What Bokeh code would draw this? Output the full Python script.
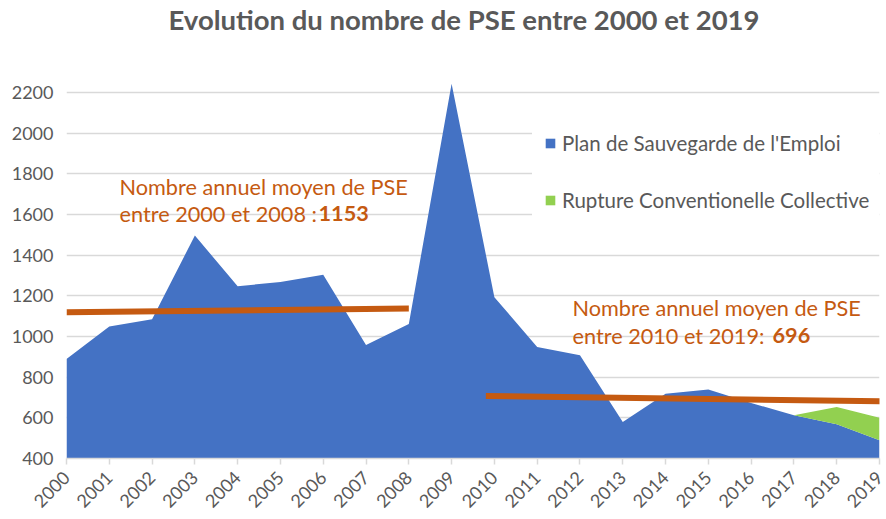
import math
from bokeh.plotting import figure
from bokeh.models import ColumnDataSource, FixedTicker, Label, Range1d, Title
from bokeh.embed import file_html
from bokeh.resources import INLINE

# ---- data ----
years = [2000, 2001, 2002, 2003, 2004, 2005, 2006, 2007, 2008, 2009,
         2010, 2011, 2012, 2013, 2014, 2015, 2016, 2017, 2018, 2019]
pse = [890, 1050, 1085, 1497, 1248, 1268, 1304, 958, 1062, 2244,
       1194, 949, 908, 580, 719, 740, 673, 613, 569, 490]
rcc = [0, 0, 0, 0, 0, 0, 0, 0, 0, 0,
       0, 0, 0, 0, 0, 0, 0, 0, 85, 110]
series_names = ["Plan de Sauvegarde de l'Emploi", "Rupture Conventionelle Collective"]
avg_2000_2008 = 1153
avg_2010_2019 = 696
trend1_x = [2000, 2008]
trend1_y = [1120, 1138]
trend2_x = [2009.8, 2019.1]
trend2_y = [708, 681]
y_ticks = [400, 600, 800, 1000, 1200, 1400, 1600, 1800, 2000, 2200]
title_text = "Evolution du nombre de PSE entre 2000 et 2019"

BLUE = "#4472C4"
GREEN = "#92D050"
ORANGE = "#C55A11"
GREY_TXT = "#595959"
GRID = "#D9D9D9"
FONT = "Lato"

src = ColumnDataSource(dict(year=years, pse=pse, rcc=rcc))

p = figure(width=886, height=519, x_range=Range1d(2000, 2019), y_range=Range1d(400, 2260),
           output_backend="svg", toolbar_location=None,
           min_border_left=66, min_border_right=7, min_border_top=79, min_border_bottom=61)
p.outline_line_color = None
p.background_fill_color = "white"

# spacer (closest to the frame) then the real title above it
p.add_layout(Title(text=" ", text_font_size="1px", standoff=42), "above")
p.add_layout(Title(text=title_text, align="left", offset=102, standoff=0,
                   text_font=FONT, text_font_style="bold", text_font_size="27.5px",
                   text_color=GREY_TXT), "above")

p.varea_stack(["pse", "rcc"], x="year", color=[BLUE, GREEN], source=src,
              legend_label=series_names)

p.line(trend1_x, trend1_y, line_color=ORANGE, line_width=6)
p.line(trend2_x, trend2_y, line_color=ORANGE, line_width=6)

# axes
p.xaxis.ticker = FixedTicker(ticks=years)
p.xaxis.major_label_orientation = math.pi / 4
p.xaxis.axis_line_color = GRID
p.xaxis.axis_line_width = 1.5
p.xaxis.major_tick_line_color = GRID
p.xaxis.major_tick_line_width = 1.5
p.xaxis.major_tick_in = 0
p.xaxis.major_tick_out = 6
p.xaxis.minor_tick_line_color = None
p.xaxis.major_label_text_font = FONT
p.xaxis.major_label_text_font_size = "18px"
p.xaxis.major_label_text_color = GREY_TXT
p.xaxis.major_label_standoff = 10

p.yaxis.ticker = FixedTicker(ticks=y_ticks)
p.yaxis.axis_line_color = None
p.yaxis.major_tick_line_color = None
p.yaxis.minor_tick_line_color = None
p.yaxis.major_label_text_font = FONT
p.yaxis.major_label_text_font_size = "18px"
p.yaxis.major_label_text_color = GREY_TXT
p.yaxis.major_label_standoff = 7

p.xgrid.grid_line_color = None
p.ygrid.grid_line_color = GRID
p.ygrid.grid_line_width = 1.5

# legend
lg = p.legend[0]
lg.location = (466, 234)
lg.background_fill_color = "white"
lg.background_fill_alpha = 1
lg.border_line_alpha = 0
lg.padding = 12
lg.margin = 0
lg.glyph_width = 12
lg.glyph_height = 12
lg.label_height = 24
lg.spacing = 33
lg.label_standoff = 6
lg.label_text_font = FONT
lg.label_text_font_size = "20.5px"
lg.label_text_color = GREY_TXT

# annotations (screen units relative to the plot frame)
def lab(text, x, y, bold=False):
    p.add_layout(Label(x=x, y=y, x_units="screen", y_units="screen", text=text,
                       text_font=FONT, text_font_size="21.7px", text_color=ORANGE,
                       text_font_style="bold" if bold else "normal",
                       text_baseline="alphabetic", text_align="left"))

lab("Nombre annuel moyen de PSE", 53, 272)
lab("entre 2000 et 2008 :", 53, 245)
lab(str(avg_2000_2008), 252, 245, bold=True)
lab("Nombre annuel moyen de PSE", 506, 151)
lab("entre 2010 et 2019:", 506, 123)
lab(str(avg_2010_2019), 706, 123, bold=True)

open("out.html", "w").write(file_html(p, INLINE))
